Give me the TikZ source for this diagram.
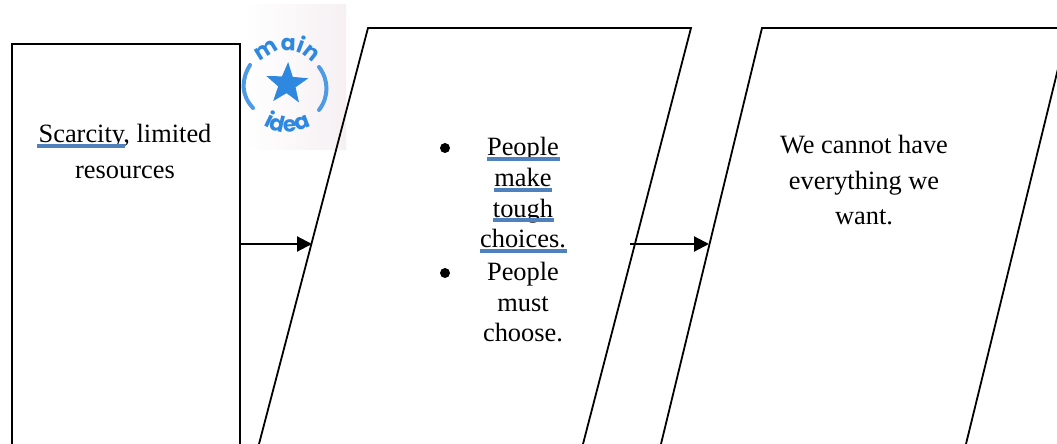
\documentclass[tikz,border=0pt]{standalone}
\usepackage{fontspec}
\setmainfont{Liberation Serif}
\newfontfamily\stampfont{Poppins}
\usetikzlibrary{arrows.meta,shapes.geometric,decorations.text}
\definecolor{ulblue}{HTML}{4F81BD}
\definecolor{stampblue}{HTML}{2F88E0}
\definecolor{stamppink}{HTML}{F6F0F3}
\tikzset{
  shapeline/.style={draw=black,line width=0.9pt},
  conn/.style={line width=1.1pt,-{Triangle[length=7.5pt,width=7.5pt]}},
  body/.style={font=\fontsize{13.2}{15.4}\selectfont,align=center,anchor=base,inner sep=0pt,text=black},
  wide/.style={font=\fontsize{13.2}{17.8}\selectfont},
  bul/.style={circle,fill=black,inner sep=0pt,minimum size=5pt},
  ul/.style={draw=ulblue,line width=1.8pt},
  paren/.style={draw=stampblue!85,line width=2pt,line cap=round},
  stamptext/.style={decorate,decoration={text along path,text align=center,
    text={|\stampfont\bfseries\fontsize{11}{13}\selectfont\color{stampblue}|#1}}}
}
\begin{document}
\begin{tikzpicture}[x=0.5pt,y=-0.5pt]
\useasboundingbox (0,0) rectangle (1057,444);
\clip (0,0) rectangle (1057,444);
% stamp background
\path[left color=white,right color=stamppink,draw=none] (245,5) rectangle (346,150);
% boxes
\node[shapeline,outer sep=0pt,minimum width=114pt,minimum height=250pt,anchor=north west,inner sep=0pt] (box) at (12,44) {};
\coordinate (p1a) at (368,28);
\coordinate (p1b) at (691,28);
\coordinate (p1c) at (583,444);
\coordinate (p1d) at (259,444);
\draw[shapeline] (p1d) -- (p1a) -- (p1b) -- (p1c);
\coordinate (p2a) at (762,28);
\coordinate (p2b) at (1068,28);
\coordinate (p2c) at (966,444);
\coordinate (p2d) at (661,444);
\draw[shapeline] (p2d) -- (p2a) -- (p2b) -- (p2c);
% connectors
\coordinate (e1) at (312,244);
\coordinate (s2) at (630,244);
\coordinate (e2) at (709,244);
\draw[conn] (box.east |- e1) -- (e1);
\draw[conn] (s2) -- (e2);
% text
\node[body,wide] (t1) at (125,178.5) {Scarcity, limited\\resources};
\node[body] (t2) at (523,248) {People\\make\\tough\\choices.};
\node[body] (t3) at (523,342) {People\\must\\choose.};
\node[body,wide] (t4) at (864,225) {We cannot have\\everything we\\want.};
\node[bul] (b1) at (445,148) {};
\node[bul] (b2) at (445,273) {};
% underlines
\draw[ul] (37,146) -- (125,146);
\draw[ul] (487,159) -- (560,159);
\draw[ul] (494,190) -- (552,190);
\draw[ul] (493,220) -- (554,220);
\draw[ul] (480,251) -- (567,251);
% stamp
\node[star,star points=5,star point ratio=2.4,fill=stampblue,minimum size=22pt,inner sep=0pt,rotate=-3] (st) at (287,84) {};
\draw[paren] (250,65) .. controls (241,80) and (241,95) .. (253,108);
\draw[paren] (319,67) .. controls (329,80) and (329,97) .. (319,110);
\begin{scope}[shift={(287,84)},y=0.5pt]
\path[stamptext={main}] (155:33) arc[start angle=155,end angle=25,radius=33];
\path[stamptext={idea}] (-150:48) arc[start angle=-150,end angle=-30,radius=48];
\end{scope}
\end{tikzpicture}
\end{document}
